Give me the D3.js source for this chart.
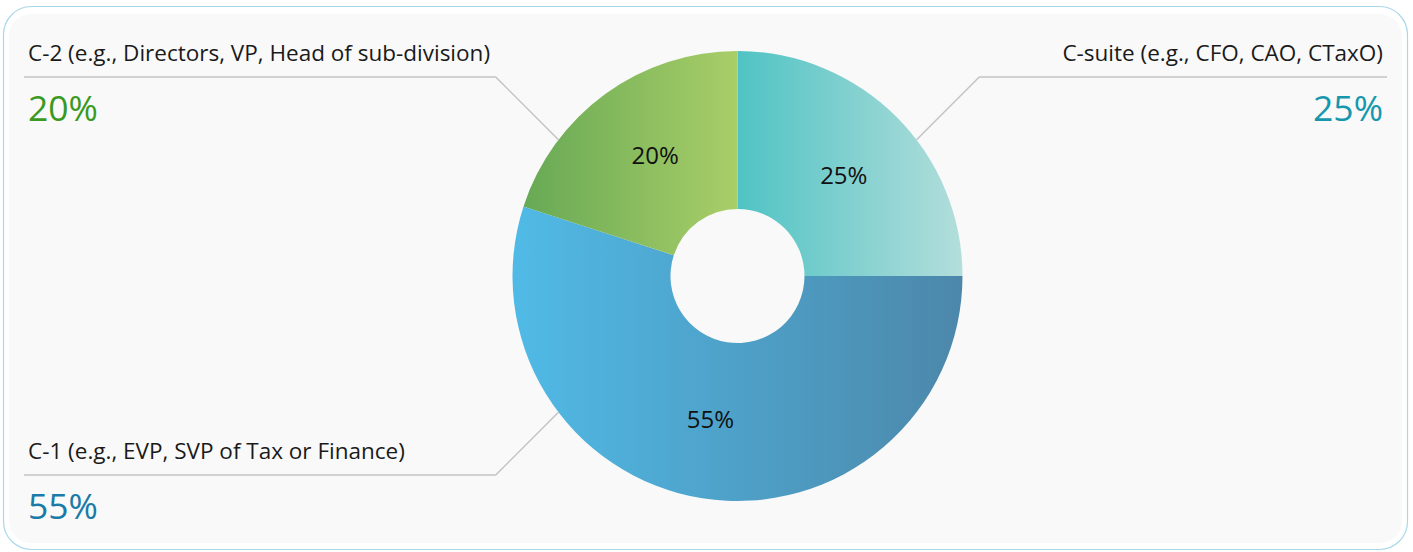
<!DOCTYPE html>
<html>
<head>
<meta charset="utf-8">
<script src="https://cdn.jsdelivr.net/npm/d3@7"></script>
<style>
  html, body { margin: 0; padding: 0; background: #ffffff; }
  svg { display: block; font-family: "Open Sans", sans-serif; }
</style>
</head>
<body>
<svg id="chart" width="1413" height="552"></svg>
<script>
// ---- data ----
const categories = ["C-suite (e.g., CFO, CAO, CTaxO)", "C-1 (e.g., EVP, SVP of Tax or Finance)", "C-2 (e.g., Directors, VP, Head of sub-division)"];
const values = [25, 55, 20];
const gradientStops = [["#50c3c4", "#b3dedb"], ["#50bae6", "#4c87aa"], ["#67a955", "#a9ce68"]];
const labelColors = ["#1597ad", "#1a7ba8", "#3a9a1f"];

const W = 1413, H = 552;
const svg = d3.select("#chart");

// card background
svg.append("rect").attr("x", 3.5).attr("y", 6.5).attr("width", 1404).attr("height", 543)
  .attr("rx", 28).attr("fill", "#ffffff").attr("stroke", "#a9d8e9").attr("stroke-width", 1.2);
svg.append("rect").attr("x", 9).attr("y", 14).attr("width", 1393).attr("height", 529)
  .attr("rx", 22).attr("fill", "#f9f9f9");

const cx = 737.5, cy = 276, rOuter = 225, rInner = 67;

const defs = svg.append("defs");
gradientStops.forEach((s, i) => {
  const g = defs.append("linearGradient").attr("id", "grad" + i)
    .attr("x1", "0%").attr("y1", "0%").attr("x2", "100%").attr("y2", "0%");
  g.append("stop").attr("offset", "0%").attr("stop-color", s[0]);
  g.append("stop").attr("offset", "100%").attr("stop-color", s[1]);
});

const pie = d3.pie().sort(null).value(d => d.value);
const data = categories.map((c, i) => ({ name: c, value: values[i], i }));
const arcs = pie(data);
const arc = d3.arc().innerRadius(rInner).outerRadius(rOuter);
const g = svg.append("g").attr("transform", `translate(${cx},${cy})`);

g.selectAll("path.slice").data(arcs).join("path")
  .attr("class", "slice")
  .attr("d", arc)
  .attr("fill", d => `url(#grad${d.data.i})`);

// inside labels
const labelArc = d3.arc().innerRadius(rInner).outerRadius(rOuter);
g.selectAll("text.inner").data(arcs).join("text")
  .attr("class", "inner")
  .attr("transform", d => {
    const a = (d.startAngle + d.endAngle) / 2 + 0.03;
    const r = (rInner + rOuter) / 2;
    return `translate(${r * Math.sin(a)},${-r * Math.cos(a)})`;
  })
  .attr("text-anchor", "middle")
  .attr("dy", "0.35em")
  .attr("font-size", 24)
  .attr("fill", "#111")
  .text(d => d.data.value + "%");

// leader lines and outer labels
const theta = Math.atan2(137, 180);
const lineDy = 199;
const leftX = 24, rightX = 1387, textLeft = 28, textRight = 1383;
const layout = [
  { sx: 1, sy: -1 },  // C-suite
  { sx: -1, sy: 1 },  // C-1
  { sx: -1, sy: -1 }  // C-2
];
arcs.forEach((d, k) => {
  const L = layout[k];
  const px = cx + L.sx * rOuter * Math.cos(theta);
  const py = cy + L.sy * rOuter * Math.sin(theta);
  const ly = cy + L.sy * lineDy;
  const kx = px + L.sx * Math.abs(ly - py);
  const endX = L.sx > 0 ? rightX : leftX;
  svg.append("polyline")
    .attr("points", `${px},${py} ${kx},${ly} ${endX},${ly}`)
    .attr("fill", "none").attr("stroke", "#c4c4c4").attr("stroke-width", 1.5);
  const tx = L.sx > 0 ? textRight : textLeft;
  const anchor = L.sx > 0 ? "end" : "start";
  svg.append("text").attr("x", tx).attr("y", ly - 16)
    .attr("text-anchor", anchor).attr("font-size", 22.5).attr("fill", "#1a1a1a")
    .text(d.data.name);
  svg.append("text").attr("x", tx).attr("y", ly + 44)
    .attr("text-anchor", anchor).attr("font-size", 35.5).attr("fill", labelColors[d.data.i])
    .text(d.data.value + "%");
});
</script>
</body>
</html>
